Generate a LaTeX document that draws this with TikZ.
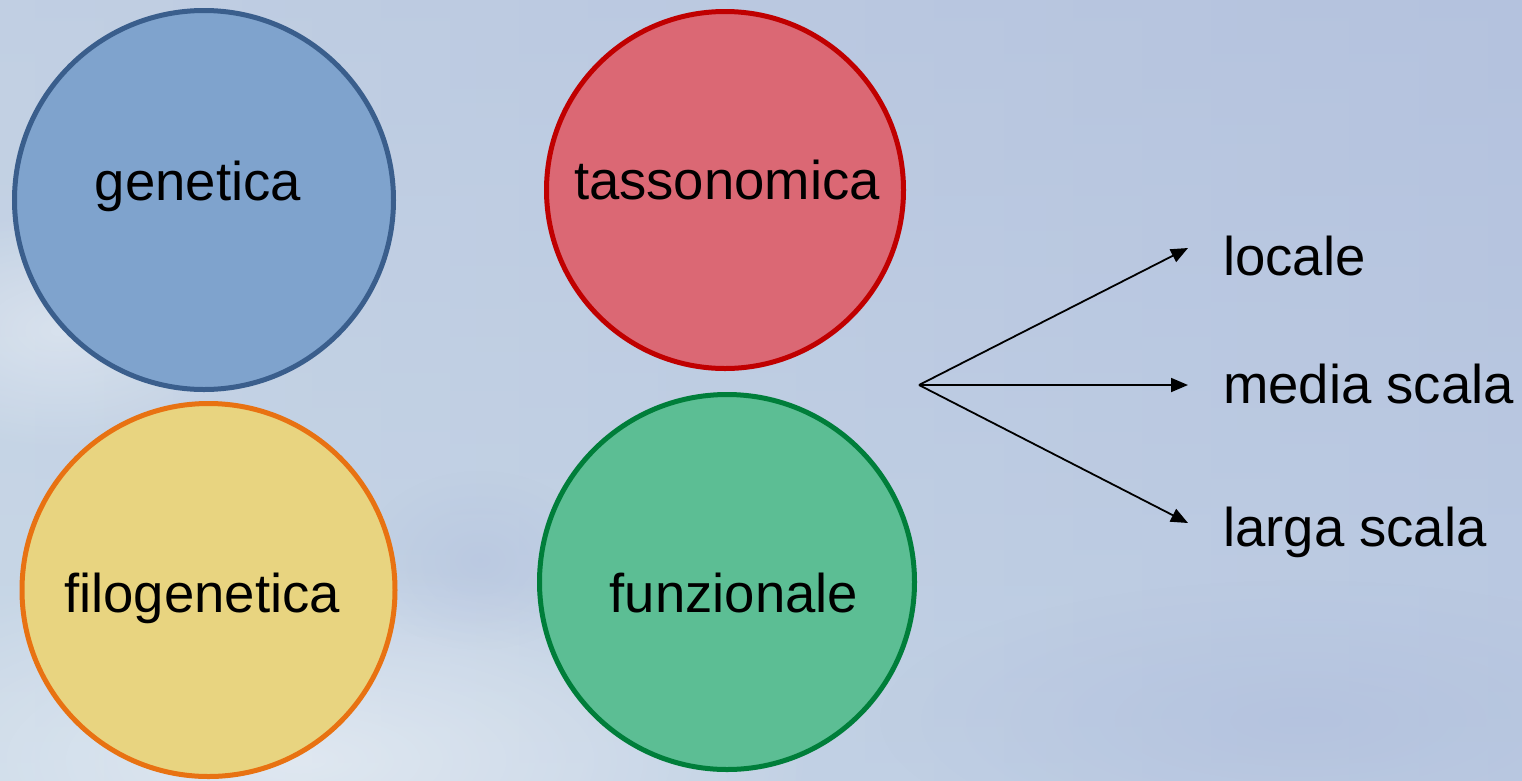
\documentclass[tikz,border=0pt]{standalone}
\usepackage{fontspec}
\setmainfont{Liberation Sans}
\usetikzlibrary{arrows.meta,shapes.geometric,fadings}
\tikzfading[name=softfade, inner color=transparent!0, outer color=transparent!100]
\definecolor{skytop}{RGB}{186,200,224}
\definecolor{skymid}{RGB}{198,212,229}
\definecolor{skybot}{RGB}{205,222,234}
\definecolor{skyright}{RGB}{176,190,221}
\definecolor{genfill}{RGB}{127,163,205}
\definecolor{gendraw}{RGB}{58,94,140}
\definecolor{tasfill}{RGB}{219,104,116}
\definecolor{tasdraw}{RGB}{192,0,0}
\definecolor{filfill}{RGB}{232,212,128}
\definecolor{fildraw}{RGB}{232,114,18}
\definecolor{funfill}{RGB}{92,190,148}
\definecolor{fundraw}{RGB}{0,126,58}
\tikzset{
  bubble/.style={circle, line width=5pt, inner sep=0pt},
  lbl/.style={anchor=base, inner sep=0pt, font=\fontsize{54.5}{60}\selectfont},
  rlbl/.style={anchor=base west, inner sep=0pt, font=\fontsize{54.5}{60}\selectfont},
  arr/.style={line width=1.8pt, -{Triangle[length=17pt,width=14pt]}}
}
\begin{document}
\begin{tikzpicture}[x=1pt,y=-1pt]
\useasboundingbox (0,0) rectangle (1522,780);
% sky background
\shade[top color=skytop, bottom color=skybot] (0,0) rectangle (1522,780);
\shade[left color=skymid, right color=skyright, opacity=0.6] (0,0) rectangle (1522,780);
\fill[white, opacity=0.45, path fading=softfade] (300,760) ellipse (520pt and 200pt);
\fill[white, opacity=0.35, path fading=softfade] (60,330) ellipse (200pt and 120pt);
\fill[skyright, opacity=0.6, path fading=softfade] (1300,720) ellipse (420pt and 140pt);
\fill[skyright, opacity=0.4, path fading=softfade] (480,560) ellipse (120pt and 90pt);
% circles
\node[bubble, fill=genfill, draw=gendraw, minimum size=379pt] (gen) at (204,200) {};
\node[bubble, fill=tasfill, draw=tasdraw, minimum size=357pt] (tas) at (725,190) {};
\node[bubble, fill=filfill, draw=fildraw, minimum size=373pt] (fil) at (208.5,590) {};
\node[bubble, fill=funfill, draw=fundraw, minimum size=375pt] (fun) at (727,582) {};
% labels
\node[lbl] (tgen) at (198,200) {genetica};
\node[lbl] (ttas) at (727,199) {tassonomica};
\node[lbl] (tfil) at (202,612) {filogenetica};
\node[lbl] (tfun) at (734,612) {funzionale};
% arrows
\coordinate (o) at (919,385);
\coordinate (e1) at (1188,248);
\coordinate (e2) at (1188,385);
\coordinate (e3) at (1188,523);
\draw[arr] (o) -- (e1);
\draw[arr] (o) -- (e2);
\draw[arr] (o) -- (e3);
\node[rlbl] (loc) at (1223,275) {locale};
\node[rlbl] (med) at (1223,403) {media scala};
\node[rlbl] (lar) at (1223,546) {larga scala};
\end{tikzpicture}
\end{document}
